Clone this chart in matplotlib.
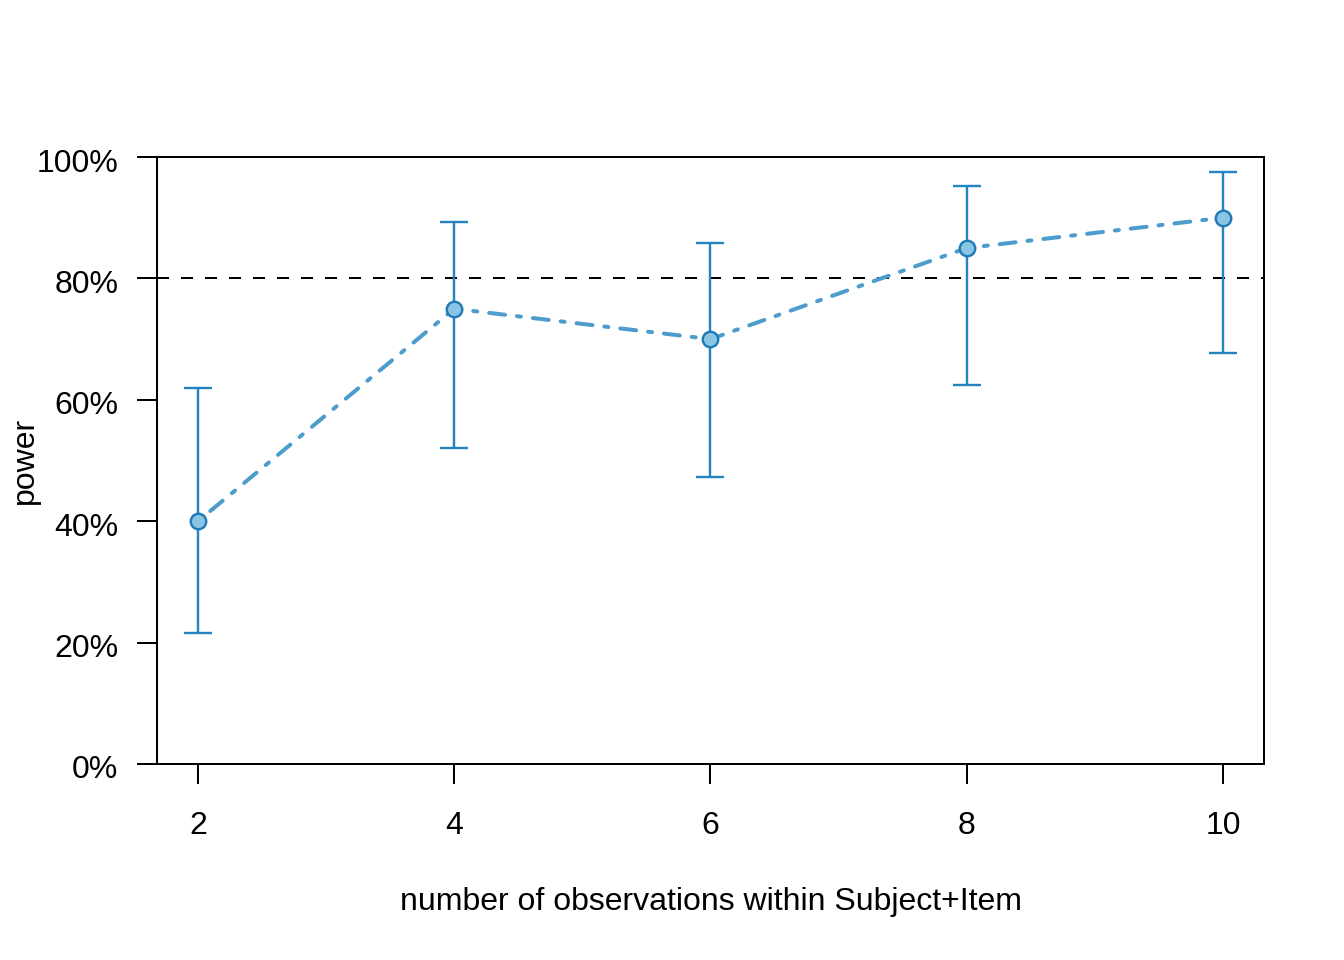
import numpy as np
import matplotlib
matplotlib.use("Agg")
import matplotlib.pyplot as plt
import matplotlib.transforms as mtransforms

plt.rcParams['font.family'] = ['Liberation Sans', 'DejaVu Sans']

# power curve values
nobs = [2, 4, 6, 8, 10]
power = [0.40, 0.75, 0.70, 0.85, 0.90]
ci_lower = [0.215, 0.521, 0.473, 0.624, 0.677]
ci_upper = [0.620, 0.893, 0.859, 0.952, 0.975]
yticks = [0, 0.2, 0.4, 0.6, 0.8, 1.0]
ytick_labels = ["0%", "20%", "40%", "60%", "80%", "100%"]
target = 0.8

fig = plt.figure(figsize=[7, 5], dpi=192)
ax = fig.add_axes([157/1344, 1 - 764/960, (1264-157)/1344, (764-157)/960])

ax.axhline(target, color="black", lw=0.75, dashes=(6, 6), zorder=1)

power = np.array(power)
err = [power - np.array(ci_lower), np.array(ci_upper) - power]
ax.errorbar(nobs, power, yerr=err, fmt="none", ecolor="#2484c2", elinewidth=0.9,
            capsize=5.3, capthick=0.9, zorder=2)
ax.plot(nobs, power, color="#4c9ccd", lw=1.5, dashes=(1, 3, 4, 3),
        dash_capstyle="round", zorder=3)
ax.plot(nobs, power, "o", ms=5.8, mfc="#8ac6e3", mec="#1f7ab8", mew=0.9, zorder=4)

ax.set_xlim(1.68, 10.32)
ax.set_ylim(0, 1)
ax.set_xticks(nobs)
ax.set_yticks(yticks)
ax.set_yticklabels(ytick_labels)
ax.tick_params(axis="both", direction="out", length=7.5, width=0.75, labelsize=12, color="black")
ax.tick_params(axis="x", pad=10)
ax.tick_params(axis="y", pad=7)
for s in ax.spines.values():
    s.set_linewidth(0.75)

# nudge y tick labels down a little, as R centres them lower
shift = mtransforms.ScaledTranslation(0, -3/192, fig.dpi_scale_trans)
for lab in ax.get_yticklabels():
    lab.set_transform(lab.get_transform() + shift)

ax.set_xlabel("number of observations within Subject+Item", fontsize=12)
ax.set_ylabel("power", fontsize=12)
ax.xaxis.set_label_coords(0.5, -(902 - 764) / (764 - 157))
ax.yaxis.set_label_coords(-(157 - 25) / (1264 - 157), 0.5)
ax.xaxis.label.set_va("center")
ax.yaxis.label.set_va("center")

plt.savefig("out.png", dpi=192)
